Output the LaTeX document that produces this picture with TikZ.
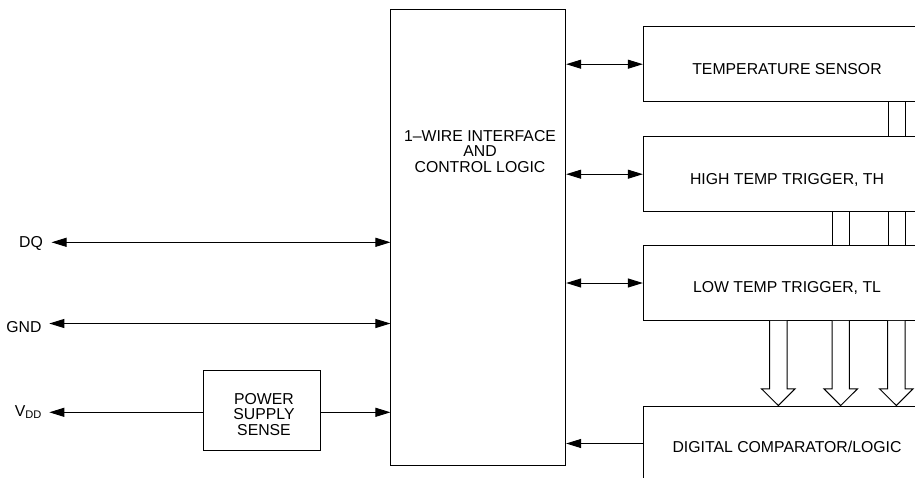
\documentclass[tikz,border=0pt]{standalone}
\usepackage{fontspec}
\setmainfont{Liberation Sans}
\usetikzlibrary{arrows.meta,calc}
\begin{document}
\begin{tikzpicture}[x=1pt,y=-1pt,
  line width=1pt,
  font=\fontsize{15.8}{15.4}\selectfont,
  box/.style={draw,rectangle,inner sep=0pt,fill=none},
  txt/.style={inner sep=0pt,align=center},
  tip/.style={-{Triangle[length=15pt,width=9pt]}},
  tips/.style={{Triangle[length=15pt,width=9pt]}-{Triangle[length=15pt,width=9pt]}},
  hollow/.style={draw,fill=white,line width=1pt}]
\useasboundingbox (0,0) rectangle (915,477);
\clip (0,0) rectangle (915,477);
% main block
\node[box,minimum width=174.7pt,minimum height=455.7pt] (main) at (478.3,237.2) {};
\node[txt] (mainlbl) at (480,151.5) {1–WIRE INTERFACE\\AND\\CONTROL LOGIC};
% right blocks
\node[box,minimum width=287.7pt,minimum height=75pt] (ts) at (787.2,64.2) {};
\node[txt,anchor=base] (tslbl) at (787,74.4) {TEMPERATURE SENSOR};
\node[box,minimum width=287.7pt,minimum height=75pt] (ht) at (787.2,174.2) {};
\node[txt,anchor=base] (htlbl) at (787,184) {HIGH TEMP TRIGGER, TH};
\node[box,minimum width=287.7pt,minimum height=74.6pt] (lt) at (787.2,283) {};
\node[txt,anchor=base] (ltlbl) at (787,292.7) {LOW TEMP TRIGGER, TL};
\node[box,minimum width=287.7pt,minimum height=75pt] (dc) at (787.2,443.5) {};
\node[txt,anchor=base] (dclbl) at (787,452.3) {DIGITAL COMPARATOR/LOGIC};
% power supply sense
\node[box,minimum width=116.7pt,minimum height=80pt] (ps) at (261.7,410) {};
\node[txt] (pslbl) at (264,414.3) {POWER\\SUPPLY\\SENSE};
% pin labels
\node[txt,anchor=base east] (dq) at (43.3,247.8) {DQ};
\node[txt,anchor=base east] (gnd) at (42,332.5) {GND};
\node[txt,anchor=base east] (vdd) at (42.3,416) {V\textsubscript{DD}};
\coordinate (dqtip) at (51.5,242.3);
\coordinate (gndtip) at (49.3,323.5);
\coordinate (vddtip) at (49.3,412.3);
% left connectors
\draw[tips] (dqtip) -- (dqtip -| main.west);
\draw[tips] (gndtip) -- (gndtip -| main.west);
\draw[tip] (vddtip -| ps.west) -- (vddtip);
\draw[tip] (vddtip -| ps.east) -- (vddtip -| main.west);
% right connectors
\draw[tips] (main.east |- ts.west) -- (ts.west);
\draw[tips] (main.east |- ht.west) -- (ht.west);
\draw[tips] (main.east |- lt.west) -- (lt.west);
\draw[tip] (dc.west) -- (main.east |- dc.west);
% buses between trigger registers
\foreach \xx in {888.3,905}{
  \coordinate (a) at (\xx,0);
  \draw (a |- ts.south) -- (a |- ht.north);
  \draw (a |- ht.south) -- (a |- lt.north);
}
\foreach \xx in {832.3,849}{
  \coordinate (a) at (\xx,0);
  \draw (a |- ht.south) -- (a |- lt.north);
}
% hollow bus arrows into the comparator
\foreach \cx in {778.3,840.7,896.3}{
  \coordinate (b) at (\cx,0);
  \draw[hollow] ($(b |- lt.south)+(-8.7,0)$) -- ($(b |- dc.north)+(-8.7,-16.7)$)
     -- ($(b |- dc.north)+(-16.8,-16.7)$) -- (b |- dc.north)
     -- ($(b |- dc.north)+(16.8,-16.7)$) -- ($(b |- dc.north)+(8.7,-16.7)$)
     -- ($(b |- lt.south)+(8.7,0)$);
}
\end{tikzpicture}
\end{document}
